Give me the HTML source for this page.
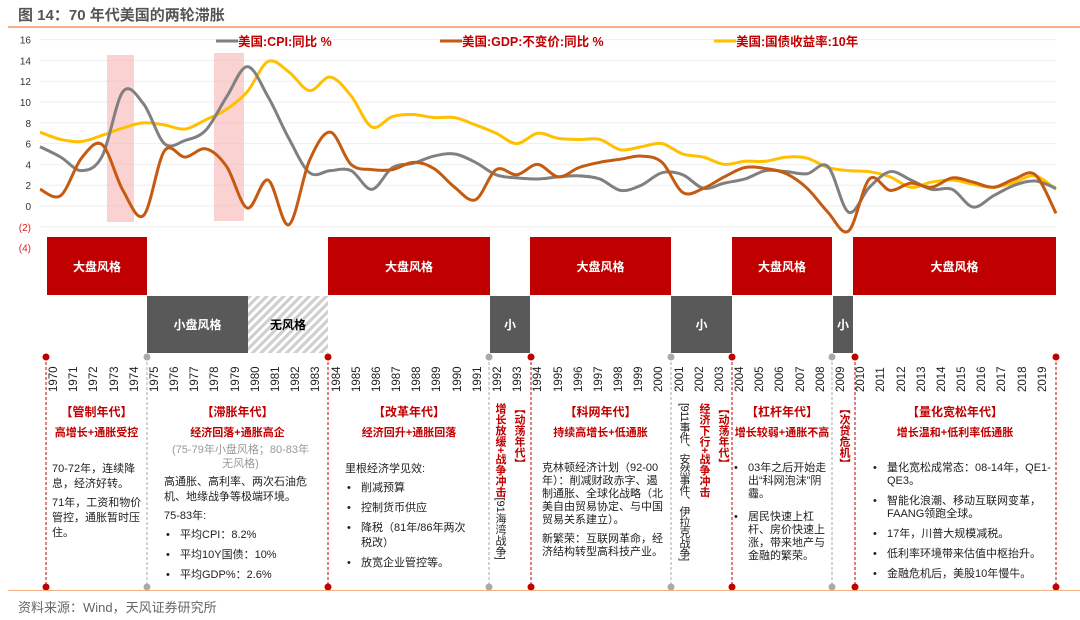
<!DOCTYPE html>
<html><head><meta charset="utf-8">
<style>
*{margin:0;padding:0;box-sizing:border-box}
body{width:1080px;height:620px;background:#fff;position:relative;overflow:hidden;font-family:"Liberation Sans","Noto Sans CJK SC",sans-serif;color:#333}
.a{position:absolute}
.ttl{color:#c00000;font-weight:bold;font-size:12px;text-align:center;white-space:nowrap}
.sub{color:#c00000;font-weight:bold;font-size:11px;text-align:center;white-space:nowrap}
.body{font-size:11px;line-height:15px;color:#222}
.body p{margin-bottom:4px}
.bl{position:relative;padding-left:16px;margin-bottom:5px}
.bl:before{content:"•";position:absolute;left:2px;top:0}
.vt{writing-mode:vertical-rl;font-size:11px;line-height:13px;font-weight:bold;color:#c00000;white-space:nowrap;height:200px}
.yr{position:absolute;top:362px;width:14px;height:30px;font-size:11.5px;writing-mode:vertical-rl;transform:rotate(180deg);color:#222;text-align:left}
.blk{position:absolute;display:flex;align-items:center;justify-content:center;color:#fff;font-weight:bold;font-size:12px}
</style></head><body>
<div class="a" style="left:18px;top:4px;font-size:15px;font-weight:bold;color:#555">图 14：70 年代美国的两轮滞胀</div>
<div class="a" style="left:8px;top:26px;width:1072px;height:2px;background:#f4b183"></div>

<svg class="a" style="left:0;top:0" width="1080" height="260" id="chart"></svg>

<div class="blk" style="left:47px;top:237px;width:100px;height:58px;background:#c00000">大盘风格</div>
<div class="blk" style="left:328px;top:237px;width:162px;height:58px;background:#c00000">大盘风格</div>
<div class="blk" style="left:530px;top:237px;width:141px;height:58px;background:#c00000">大盘风格</div>
<div class="blk" style="left:732px;top:237px;width:100px;height:58px;background:#c00000">大盘风格</div>
<div class="blk" style="left:853px;top:237px;width:203px;height:58px;background:#c00000">大盘风格</div>
<div class="blk" style="left:147px;top:296px;width:101px;height:57px;background:#595959">小盘风格</div>
<div class="blk" style="left:248px;top:296px;width:80px;height:57px;background:repeating-linear-gradient(135deg,#d0d0d0 0 3px,#fff 3px 6px);color:#000">无风格</div>
<div class="blk" style="left:490px;top:296px;width:40px;height:57px;background:#595959">小</div>
<div class="blk" style="left:671px;top:296px;width:61px;height:57px;background:#595959">小</div>
<div class="blk" style="left:833px;top:296px;width:20px;height:57px;background:#595959">小</div>

<svg class="a" style="left:0;top:350px" width="1080" height="250" id="tl"></svg>
<div id="years"></div>

<div class="a ttl" style="left:46px;top:403px;width:101px">【管制年代】</div>
<div class="a sub" style="left:46px;top:424px;width:101px">高增长+通胀受控</div>
<div class="a body" style="left:52px;top:462px;width:92px"><p>70-72年，连续降息，经济好转。</p><p>71年，工资和物价管控，通胀暂时压住。</p></div>

<div class="a ttl" style="left:147px;top:403px;width:181px">【滞胀年代】</div>
<div class="a sub" style="left:147px;top:424px;width:181px">经济回落+通胀高企</div>
<div class="a" style="left:168px;top:443px;width:145px;font-size:11px;line-height:14px;color:#999;text-align:center">(75-79年小盘风格；80-83年无风格)</div>
<div class="a body" style="left:164px;top:475px;width:158px"><p>高通胀、高利率、两次石油危机、地缘战争等极端环境。</p><p>75-83年:</p><div class="bl">平均CPI：8.2%</div><div class="bl">平均10Y国债：10%</div><div class="bl">平均GDP%：2.6%</div></div>

<div class="a ttl" style="left:328px;top:403px;width:162px">【改革年代】</div>
<div class="a sub" style="left:328px;top:424px;width:162px">经济回升+通胀回落</div>
<div class="a body" style="left:345px;top:462px;width:125px"><p>里根经济学见效:</p><div class="bl">削减预算</div><div class="bl">控制货币供应</div><div class="bl">降税（81年/86年两次税改）</div><div class="bl">放宽企业管控等。</div></div>
<div class="a vt" style="left:493px;top:403px">增长放缓+战争冲击<span style="color:#222;font-weight:normal">[91海湾战争]</span></div>
<div class="a vt" style="left:512px;top:403px">【动荡年代】</div>

<div class="a ttl" style="left:530px;top:403px;width:141px">【科网年代】</div>
<div class="a sub" style="left:530px;top:424px;width:141px">持续高增长+低通胀</div>
<div class="a body" style="left:542px;top:462px;width:126px;line-height:13px"><p>克林顿经济计划（92-00年）：削减财政赤字、遏制通胀、全球化战略（北美自由贸易协定、与中国贸易关系建立）。</p><p style="margin-top:6px">新繁荣：互联网革命，经济结构转型高科技产业。</p></div>
<div class="a vt" style="left:677px;top:403px;color:#222;font-weight:normal;letter-spacing:-0.5px">[911事件、安然事件、伊拉克战争]</div>
<div class="a vt" style="left:697px;top:403px">经济下行+战争冲击</div>
<div class="a vt" style="left:716px;top:403px">【动荡年代】</div>

<div class="a ttl" style="left:732px;top:403px;width:100px">【杠杆年代】</div>
<div class="a sub" style="left:727px;top:424px;width:110px">增长较弱+通胀不高</div>
<div class="a body" style="left:732px;top:462px;width:98px;line-height:13px"><div class="bl" style="margin-bottom:10px">03年之后开始走出“科网泡沫”阴霾。</div><div class="bl">居民快速上杠杆、房价快速上涨，带来地产与金融的繁荣。</div></div>
<div class="a vt" style="left:837px;top:403px">【次贷危机】</div>

<div class="a ttl" style="left:855px;top:403px;width:200px">【量化宽松年代】</div>
<div class="a sub" style="left:855px;top:424px;width:200px">增长温和+低利率低通胀</div>
<div class="a body" style="left:871px;top:462px;width:180px;line-height:13px"><div class="bl" style="margin-bottom:7px">量化宽松成常态：08-14年，QE1-QE3。</div><div class="bl" style="margin-bottom:7px">智能化浪潮、移动互联网变革，FAANG领跑全球。</div><div class="bl" style="margin-bottom:7px">17年，川普大规模减税。</div><div class="bl" style="margin-bottom:7px">低利率环境带来估值中枢抬升。</div><div class="bl">金融危机后，美股10年慢牛。</div></div>

<div class="a" style="left:8px;top:590px;width:1072px;height:1px;background:#f4b183"></div>
<div class="a" style="left:18px;top:597px;font-size:13px;color:#666">资料来源：Wind，天风证券研究所</div>

<script>
const years=[];for(let y=1970;y<=2019;y++)years.push(y);
const cpi=[5.7,4.7,3.4,4.8,11.0,9.8,6.0,6.3,7.3,10.5,13.4,10.5,6.5,3.2,3.4,3.4,1.6,3.7,4.1,4.8,5.0,4.2,3.0,2.7,2.6,2.8,2.9,2.6,1.5,2.0,3.2,3.0,1.7,2.2,2.6,3.4,3.3,3.1,3.8,-0.6,1.8,3.3,2.5,1.6,1.6,-0.1,1.0,2.0,2.4,1.7];
const gdp=[1.6,1.0,4.6,5.9,1.5,-0.9,5.3,4.7,5.5,3.8,-0.2,2.5,-1.8,4.4,7.1,4.0,3.5,3.5,4.2,3.6,1.8,0.6,3.5,3.0,4.0,2.8,3.7,4.2,4.5,4.8,4.2,1.3,1.7,2.8,3.7,3.6,3.1,1.7,-0.6,-2.4,2.6,1.5,2.2,1.8,2.7,2.3,1.8,2.6,3.0,-0.7];
const yld=[7.1,6.4,6.2,6.8,7.5,8.0,7.8,7.4,8.3,9.3,11.0,13.9,12.9,11.1,12.4,10.6,7.6,8.6,8.8,8.5,8.5,7.8,7.0,6.0,7.0,6.5,6.4,6.4,5.4,5.7,6.0,5.0,4.7,4.0,4.3,4.3,4.7,4.6,3.7,3.4,3.3,2.8,1.8,2.3,2.5,2.1,1.8,2.3,2.9,1.6];
const yTicks=[16,14,12,10,8,6,4,2,0,-2,-4];
const yTickLabels=["16","14","12","10","8","6","4","2","0","(2)","(4)"];
const NS="http://www.w3.org/2000/svg";
const svg=document.getElementById('chart');
const X=y=>40+(y-1970)*(1016/49);
const Y=v=>206-v*10.4;
function el(t,a,p){const e=document.createElementNS(NS,t);for(const k in a)e.setAttribute(k,a[k]);(p||svg).appendChild(e);return e;}
yTicks.forEach((t,i)=>{
 if(t>=-2){const g=el('line',{x1:40,x2:1056,y1:Y(t),y2:Y(t),stroke:'#eeeeee','stroke-width':1});
 
 }
 const tx=el('text',{x:31,y:Y(t)+4,'text-anchor':'end','font-size':10,fill:t<0?'#e02020':'#333'});tx.textContent=yTickLabels[i];
 
 
});
[[107,55,27,167],[214,53,30,168]].forEach(r=>{const b=el('rect',{x:r[0],y:r[1],width:r[2],height:r[3],fill:'#f8b4b4','fill-opacity':0.6});

});
function path(vals){const p=vals.map((v,i)=>[X(years[i]),Y(v)]);let d=`M${p[0][0]},${p[0][1]}`;
for(let i=0;i<p.length-1;i++){const p0=p[Math.max(0,i-1)],p1=p[i],p2=p[i+1],p3=p[Math.min(p.length-1,i+2)];
d+=` C${p1[0]+(p2[0]-p0[0])/6},${p1[1]+(p2[1]-p0[1])/6} ${p2[0]-(p3[0]-p1[0])/6},${p2[1]-(p3[1]-p1[1])/6} ${p2[0]},${p2[1]}`;}return d;}
const l1=el('path',{d:path(yld),fill:'none',stroke:'#ffc000','stroke-width':3});


const l2=el('path',{d:path(cpi),fill:'none',stroke:'#808080','stroke-width':3});


const l3=el('path',{d:path(gdp),fill:'none',stroke:'#c55a11','stroke-width':3});


[[216,'#808080','美国:CPI:同比 %'],[440,'#c55a11','美国:GDP:不变价:同比 %'],[714,'#ffc000','美国:国债收益率:10年']].forEach(l=>{
 const ln=el('line',{x1:l[0],x2:l[0]+22,y1:41,y2:41,stroke:l[1],'stroke-width':3});
 
 
 const t=el('text',{x:l[0]+22,y:46,'font-size':12.5,'font-weight':'bold',fill:'#c00000'});t.textContent=l[2];
 
 
});
const tl=document.getElementById('tl');
[[46,'#c00000'],[147,'#aaa'],[328,'#c00000'],[489,'#aaa'],[531,'#c00000'],[671,'#aaa'],[732,'#c00000'],[832,'#aaa'],[855,'#c00000'],[1056,'#c00000']].forEach(d=>{
 const ln=el('line',{x1:d[0],x2:d[0],y1:7,y2:237,stroke:d[1],'stroke-width':1,'stroke-dasharray':'3,2'},tl);
 
 
 el('circle',{cx:d[0],cy:7,r:3.5,fill:d[1]},tl);
 el('circle',{cx:d[0],cy:237,r:3.5,fill:d[1]},tl);
});
const yc=document.getElementById('years');
years.forEach((y,i)=>{const d=document.createElement('div');d.className='yr';d.style.left=(48+i*20.18)+'px';d.textContent=y;


yc.appendChild(d);});
</script>
</body></html>
